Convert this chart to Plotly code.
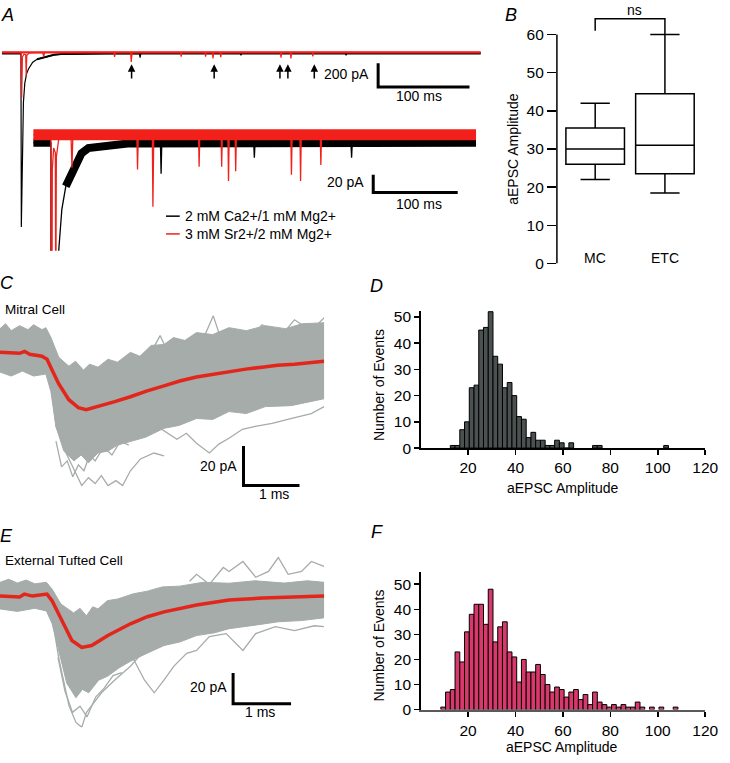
import plotly.graph_objects as go

W, H = 730, 763
FONT = "Liberation Sans, Arial, Helvetica, sans-serif"

# ---------------- Panel A : whole-cell traces (t in ms, I in pA) ----------------
a_black_t = [0, 20.8, 21.2, 22.3, 23.5, 25, 27, 29, 30.2, 33.7, 38.4, 44.2, 50, 57, 65.1, 76.7, 111.6,
             150.4, 151.2, 152.0, 260.8, 261.6, 262.4, 375.9, 376.7, 377.5, 524]
a_black_I = [-9, -9, -1475, -800, -420, -260, -180, -140, -128, -84, -58, -47, -36, -21, -15, -14, -10,
             -9, -44, -9, -9, -26, -9, -9, -26, -9, -9]
a_black_base_t = [0, 20.8, None, 38.4, 44.2, 50, 57, 65.1, 76.7, 111.6, 524]
a_black_base_I = [-9, -9, None, -58, -47, -36, -21, -15, -14, -10, -9]

a_red_t = [0, 20.8, 21.6, 22.4, 24, 26.0, 26.5, 27.2, 30, 44.5, 45.7, 46.8, 122.5, 123.3, 124.2,
           140.8, 141.5, 142.5, 195.5, 196.2, 197.0, 222.2, 222.9, 223.7, 230.3, 231.0, 231.8,
           238.8, 239.5, 240.3, 304.8, 305.5, 306.3, 315.6, 316.3, 317.1, 339.6, 340.3, 341.1, 524]
a_red_I = [0, 0, -383, -40, -15, -20, -200, -25, -5, 0, -37, 0, 0, -39, 0,
           0, -81, 0, 0, -36, 0, 0, -36, 0, 0, -52, 0,
           0, -41, 0, 0, -45, 0, 0, -52, 0, 0, -34, 0, 0]
a_red_base_t = [0, 524]
a_red_base_I = [0, 0]

arrow_times = [141.9, 232.3, 304.3, 313.0, 341.9]
legend_labels = ["2 mM Ca2+/1 mM Mg2+", "3 mM Sr2+/2 mM Mg2+"]

# ---------------- Panel B : box plot ----------------
b_categories = ["MC", "ETC"]
b_q1 = [26, 23.5]
b_median = [30, 31]
b_q3 = [35.5, 44.5]
b_low = [22, 18.5]
b_high = [42, 60]

# ---------------- Panel C : mitral cell events (t ms, I pA) ----------------
c_mean_t = [0, 0.35, 0.44, 0.53, 0.75, 0.84, 0.93, 1.05, 1.23, 1.40, 1.54, 1.75, 2.05, 2.33, 2.63,
            2.93, 3.21, 3.51, 3.81, 4.09, 4.39, 4.68, 4.96, 5.26, 5.79]
c_mean_I = [0, -0.5, 0.5, -1, -2, -3.5, -9, -16, -24, -28, -29, -27.5, -25, -22.5, -19.5,
            -17, -14.5, -12.5, -11, -10, -8.5, -7.5, -6.5, -6, -4.5]
c_up_t = [0, 0.1, 0.2, 0.35, 0.5, 0.6, 0.75, 0.82, 0.91, 1.05, 1.23, 1.35, 1.49, 1.6, 1.75, 1.93,
          2.1, 2.33, 2.5, 2.7, 2.93, 3.1, 3.3, 3.51, 3.8, 4.09, 4.4, 4.74, 5.1, 5.4, 5.79]
c_up_I = [12, 14.5, 11, 13.5, 11.5, 14, 11.5, 12.5, 7.5, -2.5, -7, -4.5, -9, -6, -7.5, -3.5,
          -5, 0, -2, 3.5, 4, 7.5, 6, 10, 9, 12.5, 11, 13.5, 12, 14.5, 15]
c_lo_t = [0, 0.2, 0.4, 0.6, 0.82, 0.91, 1.0, 1.14, 1.32, 1.45, 1.58, 1.75, 1.93, 2.1, 2.33, 2.6,
          2.93, 3.2, 3.51, 3.8, 4.09, 4.4, 4.74, 5.2, 5.79]
c_lo_I = [-10, -12, -9.5, -12, -11, -20, -37.5, -50, -55, -52, -56, -51, -50, -47, -45, -43,
          -38.5, -37, -33.5, -34, -30, -31, -27.5, -27, -23.5]
c_out1_t = [0.88, 1.0, 1.18, 1.35, 1.46, 1.58, 1.70, 1.81, 1.93, 2.07, 2.19, 2.33, 2.51, 2.75, 2.93]
c_out1_I = [-9, -37.5, -51, -61, -67.5, -63.5, -66.5, -62.5, -67.5, -65, -67.5, -60, -54, -51, -52.5]
c_out2_t = [1.23, 1.75, 2.28, 2.63, 2.81, 3.04, 3.16, 3.33, 3.51, 3.74, 3.91, 4.09, 4.33, 4.56, 4.86, 5.14, 5.56, 5.79]
c_out2_I = [-50, -47.5, -42.5, -41, -37.5, -41.5, -44, -41, -46, -51, -46.5, -43.5, -39, -37.5, -36, -34, -31, -27.5]
c_out3_t = [2.33, 2.51, 2.68, 2.86, 3.04, 3.28, 3.51, 3.81, 3.98, 4.21, 4.44, 4.68, 5.04, 5.26, 5.56, 5.79]
c_out3_I = [-2, -6, -1, 8.5, -2.5, 6, -1, 18.5, 4, 11, 6, 14, 9, 16.5, 11, 17.5]
c_out4_t = [1.0, 1.1, 1.2, 1.3, 1.4, 1.5, 1.6, 1.7, 1.85, 2.0, 2.15, 2.3]
c_out4_I = [-45, -58, -55, -63, -57, -60, -52, -55, -48, -52, -45, -47]

# ---------------- Panel D : MC amplitude histogram ----------------
d_centers = [13.5, 15.5, 17.5, 19.5, 21.5, 23.5, 25.5, 27.5, 29.5, 31.5, 33.5, 35.5, 37.5, 39.5,
             41.5, 43.5, 45.5, 47.5, 49.5, 51.5, 53.5, 55.5, 57.5, 59.5, 61.5, 63.5, 73.5, 75.5, 103.5]
d_counts = [1, 1, 7, 10, 23, 24, 45, 46, 52, 35, 32, 23, 25, 20,
            12, 11, 4, 6, 3, 3, 1, 1, 3, 2, 0, 2, 1, 1, 1]

# ---------------- Panel E : external tufted cell events ----------------
e_mean_t = [0, 0.34, 0.42, 0.56, 0.81, 0.90, 1.07, 1.24, 1.41, 1.58, 1.86, 2.25, 2.54, 2.83,
            3.39, 3.95, 4.53, 5.08, 5.59]
e_mean_I = [0, -0.6, 1.3, 0, 1.3, -3.2, -16.1, -29, -33.5, -32.3, -25.8, -18.1, -13.5, -10.3,
            -5.8, -2.6, -1.3, -0.6, 0]
e_up_t = [0, 0.15, 0.3, 0.45, 0.6, 0.80, 0.90, 1.05, 1.27, 1.38, 1.49, 1.6, 1.69, 1.85, 2.03, 2.3,
          2.54, 2.8, 3.10, 3.5, 3.95, 4.4, 4.9, 5.3, 5.59]
e_up_I = [9, 11, 8.5, 10.5, 8, 9, 4.5, -5.2, -11, -8, -12.9, -7, -8.4, -3, -1.9, 1.5,
          3.2, 6, 6.5, 9, 8.4, 10, 8.5, 10, 9]
e_lo_t = [0, 0.3, 0.6, 0.80, 0.90, 1.02, 1.15, 1.31, 1.42, 1.53, 1.7, 1.86, 2.05, 2.25, 2.5, 2.83,
          3.1, 3.39, 3.7, 3.95, 4.4, 4.80, 5.2, 5.59]
e_lo_I = [-8.4, -10, -8, -9.7, -18.1, -37.4, -56.8, -66.5, -61, -63.2, -55, -52.3, -47, -42.6, -38,
          -32.3, -30, -25.8, -24, -21.3, -19, -16.8, -16, -14.2]
e_out1_t = [0.85, 1.02, 1.19, 1.31, 1.41, 1.49, 1.58, 1.75, 1.98, 2.25, 2.49]
e_out1_I = [-3.2, -41.9, -71.6, -82.6, -85.8, -76.1, -71.6, -63.2, -54.8, -45.8, -35.5]
e_out2_t = [1.98, 2.25, 2.49, 2.66, 2.83, 3.0, 3.22, 3.39, 3.61, 3.90, 4.19, 4.41, 4.75, 5.08, 5.42, 5.59]
e_out2_I = [-31, -37.4, -54.8, -63.2, -54.8, -45.8, -37.4, -35.5, -26.5, -24.5, -35.5, -24.5, -20, -22.6, -19.4, -20]
e_out3_t = [3.27, 3.39, 3.61, 3.85, 3.95, 4.19, 4.41, 4.63, 4.80, 4.97, 5.20, 5.37, 5.59]
e_out3_I = [9.7, 14.2, 7.7, 18.7, 16.1, 22.6, 12.3, 16.1, 25.2, 14.2, 16.1, 22.6, 19.4]
e_out4_t = [1.0, 1.12, 1.25, 1.38, 1.5, 1.65, 1.8, 1.95, 2.1]
e_out4_I = [-40, -62, -76, -72, -79, -66, -60, -52, -50]

# ---------------- Panel F : ETC amplitude histogram ----------------
f_centers = [9.5, 11.5, 13.5, 15.5, 17.5, 19.5, 21.5, 23.5, 25.5, 27.5, 29.5, 31.5, 33.5, 35.5,
             37.5, 39.5, 41.5, 43.5, 45.5, 47.5, 49.5, 51.5, 53.5, 55.5, 57.5, 59.5, 61.5, 63.5,
             65.5, 67.5, 69.5, 71.5, 73.5, 75.5, 77.5, 79.5, 81.5, 83.5, 85.5, 87.5, 89.5, 91.5,
             93.5, 97.5, 101.5, 107.5]
f_counts = [1, 7, 8, 23, 19, 31, 38, 42, 42, 34, 48, 27, 33, 35,
            23, 21, 11, 20, 15, 15, 18, 14, 10, 7, 9, 8, 5, 7,
            8, 4, 6, 2, 7, 3, 2, 1, 2, 1, 2, 1, 1, 3,
            1, 1, 1, 1]

# ---------------- colours ----------------
RED_A = "#f2201a"
RED_M = "#e2261c"
GRAY = "#a5acaa"
D_COL = "#4b5150"
F_COL = "#d8386c"


def px(x):
    return x / W


def py(y):
    return 1 - y / H


def dx(a, b):
    return [a / W, b / W]


def dy(top, bottom):
    return [1 - bottom / H, 1 - top / H]


fig = go.Figure()


def line(x, y, ax, color, width, **kw):
    fig.add_trace(go.Scatter(x=x, y=y, mode="lines", xaxis="x" + ax, yaxis="y" + ax,
                             line=dict(color=color, width=width), showlegend=False,
                             hoverinfo="skip", **kw))


# ---- Panel A top (overview) ----
line(a_black_t, a_black_I, "", "black", 1.2)
line(a_black_base_t, a_black_base_I, "", "black", 2)
line(a_red_t, a_red_I, "", RED_A, 1.2)
line(a_red_base_t, a_red_base_I, "", RED_A, 2.2)
line([411.8, 411.8, 511.8], [-92, -292, -292], "", "black", 3)

# ---- Panel A bottom (expanded) ----
line(a_black_base_t, a_black_base_I, "2", "black", 8)
line(a_black_t, a_black_I, "2", "black", 1.3)
line(a_red_base_t, a_red_base_I, "2", RED_A, 11)
line(a_red_t, a_red_I, "2", RED_A, 1.3)
line([402.3, 402.3, 502.3], [-45, -65, -65], "2", "black", 3)

# ---- Panel B ----
fig.add_trace(go.Box(x=[0, 1], q1=b_q1, median=b_median, q3=b_q3, lowerfence=b_low,
                     upperfence=b_high, width=0.84, fillcolor="white",
                     line=dict(color="black", width=1.5), xaxis="x3", yaxis="y3",
                     boxpoints=False, showlegend=False, hoverinfo="skip"))
line([0, 0, 1, 1], [61, 64.1, 64.1, 60], "3", "black", 1.5)

# ---- Panel C ----
fig.add_trace(go.Scatter(x=c_up_t + c_lo_t[::-1], y=c_up_I + c_lo_I[::-1], fill="toself",
                         fillcolor=GRAY, mode="lines", line=dict(width=1, color=GRAY),
                         xaxis="x4", yaxis="y4", showlegend=False, hoverinfo="skip"))
for tt, ii in [(c_out1_t, c_out1_I), (c_out2_t, c_out2_I), (c_out3_t, c_out3_I), (c_out4_t, c_out4_I)]:
    line(tt, ii, "4", GRAY, 1.3)
line(c_mean_t, c_mean_I, "4", RED_M, 3.5)
line([4.35, 4.35, 5.35], [-47.5, -67.5, -67.5], "4", "black", 3)

# ---- Panel D ----
fig.add_trace(go.Bar(x=d_centers, y=d_counts, width=2, marker=dict(color=D_COL, line=dict(color="black", width=1)),
                     xaxis="x5", yaxis="y5", showlegend=False, hoverinfo="skip"))

# ---- Panel E ----
fig.add_trace(go.Scatter(x=e_up_t + e_lo_t[::-1], y=e_up_I + e_lo_I[::-1], fill="toself",
                         fillcolor=GRAY, mode="lines", line=dict(width=1, color=GRAY),
                         xaxis="x6", yaxis="y6", showlegend=False, hoverinfo="skip"))
for tt, ii in [(e_out1_t, e_out1_I), (e_out2_t, e_out2_I), (e_out3_t, e_out3_I), (e_out4_t, e_out4_I)]:
    line(tt, ii, "6", GRAY, 1.3)
line(e_mean_t, e_mean_I, "6", RED_M, 3.5)
line([4.02, 4.02, 5.02], [-50.3, -70.3, -70.3], "6", "black", 3)

# ---- Panel F ----
fig.add_trace(go.Bar(x=f_centers, y=f_counts, width=2, marker=dict(color=F_COL, line=dict(color="black", width=1)),
                     xaxis="x7", yaxis="y7", showlegend=False, hoverinfo="skip"))

hidden = dict(visible=False, showgrid=False, zeroline=False, fixedrange=True)
tickfont = dict(family=FONT, size=15.5, color="black")
hist_x = dict(range=[0, 120], showline=True, linecolor="black", linewidth=1.5, ticks="outside",
              ticklen=5, tickwidth=1.5, tickcolor="black", tickvals=[20, 40, 60, 80, 100, 120],
              tickfont=tickfont, showgrid=False, zeroline=False, ticklabeloverflow="allow")
hist_y = dict(showline=True, linecolor="black", linewidth=1.5, ticks="outside", ticklen=5,
              tickwidth=1.5, tickcolor="black", tickvals=[0, 10, 20, 30, 40, 50],
              tickfont=tickfont, showgrid=False, zeroline=False)

layout = dict(
    width=W, height=H, margin=dict(l=0, r=0, t=0, b=0),
    paper_bgcolor="white", plot_bgcolor="rgba(0,0,0,0)",
    font=dict(family=FONT, size=14, color="black"),
    xaxis=dict(domain=dx(0, 490), range=[-2.15, 524.7], anchor="y", **hidden),
    yaxis=dict(domain=dy(40, 235), range=[-1533, 91.7], anchor="x", **hidden),
    xaxis2=dict(domain=dx(0, 490), range=[-39.5, 530.2], anchor="y2", **hidden),
    yaxis2=dict(domain=dy(110, 252), range=[-130.5, 27.2], anchor="x2", **hidden),
    xaxis3=dict(domain=dx(567, 720), range=[-0.549, 1.606], anchor="y3", **hidden),
    yaxis3=dict(domain=dy(0, 265), range=[0, 68.5], anchor="x3", showline=False, ticks="outside",
                ticklen=9, tickwidth=1.5, tickcolor="black", tickvals=[0, 10, 20, 30, 40, 50, 60],
                tickfont=tickfont, showgrid=False, zeroline=False),
    xaxis4=dict(domain=dx(0, 330), range=[0, 5.79], anchor="y4", **hidden),
    yaxis4=dict(domain=dy(315, 505), range=[-75, 20], anchor="x4", **hidden),
    xaxis5=dict(domain=dx(428.3, 718), anchor="y5", **hist_x),
    yaxis5=dict(domain=dy(313, 452), range=[0, 52.3], anchor="x5", **hist_y),
    xaxis6=dict(domain=dx(0, 330), range=[0, 5.59], anchor="y6", **hidden),
    yaxis6=dict(domain=dy(555, 735), range=[-85.8, 30.3], anchor="x6", **hidden),
    xaxis7=dict(domain=dx(428.3, 718), anchor="y7", **{**hist_x, "linecolor": "#5a5a5a", "linewidth": 2.5}),
    yaxis7=dict(domain=dy(578, 717), range=[0, 54.7], anchor="x7", **hist_y),
)
fig.update_layout(**layout)

fig.add_shape(type="line", xref="x3 domain", yref="y3", x0=0, x1=0, y0=0, y1=60,
              line=dict(color="black", width=1.5))

ann = []


def text(x, y, s, size=14, xanchor="center", yanchor="middle", angle=0, color="black"):
    ann.append(dict(x=px(x), y=py(y), xref="paper", yref="paper", text=s, showarrow=False,
                    xanchor=xanchor, yanchor=yanchor, textangle=angle,
                    font=dict(family=FONT, size=size, color=color)))


for lab, (xx, yy) in {"A": (8, 13), "B": (520, 13), "C": (7, 285), "D": (383, 288),
                      "E": (7, 541), "F": (384, 537)}.items():
    text(xx, yy, "<i>%s</i>" % lab, size=18)

text(378, 73, "200 pA", xanchor="right")
text(427, 95, "100 ms")
text(373, 182, "20 pA", xanchor="right")
text(427, 205, "100 ms")
for i, (lab, col) in enumerate(zip(legend_labels, ["black", RED_A])):
    yy = 217 + 18 * i
    fig.add_shape(type="line", xref="paper", yref="paper", x0=px(169), x1=px(183), y0=py(yy), y1=py(yy),
                  line=dict(color=col, width=1.5))
    text(186, yy, lab, xanchor="left")

for t in arrow_times:
    ann.append(dict(x=t, y=-100, ax=t, ay=-233, xref="x", yref="y", axref="x", ayref="y",
                    showarrow=True, arrowhead=2, arrowsize=1, arrowwidth=1.5, arrowcolor="black", text=""))

text(646, 8, "ns")
for i, cat in enumerate(b_categories):
    ann.append(dict(x=i, y=1.5, xref="x3", yref="y3", text=cat, showarrow=False,
                    font=dict(family=FONT, size=14, color="black")))
text(522, 149, "aEPSC Amplitude", angle=-90)

text(3, 312, "Mitral Cell", size=13.5, xanchor="left")
text(243, 470, "20 pA", xanchor="right")
text(279, 499, "1 ms")
text(3, 566, "External Tufted Cell", size=13.5, xanchor="left")
text(233, 694, "20 pA", xanchor="right")
text(265, 719, "1 ms")

text(573, 492, "aEPSC Amplitude")
text(386, 388, "Number of Events", angle=-90)
text(572, 755, "aEPSC Amplitude")
text(386, 652, "Number of Events", angle=-90)

fig.update_layout(annotations=ann)
fig.write_html("out.html", config={"displayModeBar": False, "staticPlot": True},
               post_script="document.body.style.margin='0';document.body.style.padding='0';")
